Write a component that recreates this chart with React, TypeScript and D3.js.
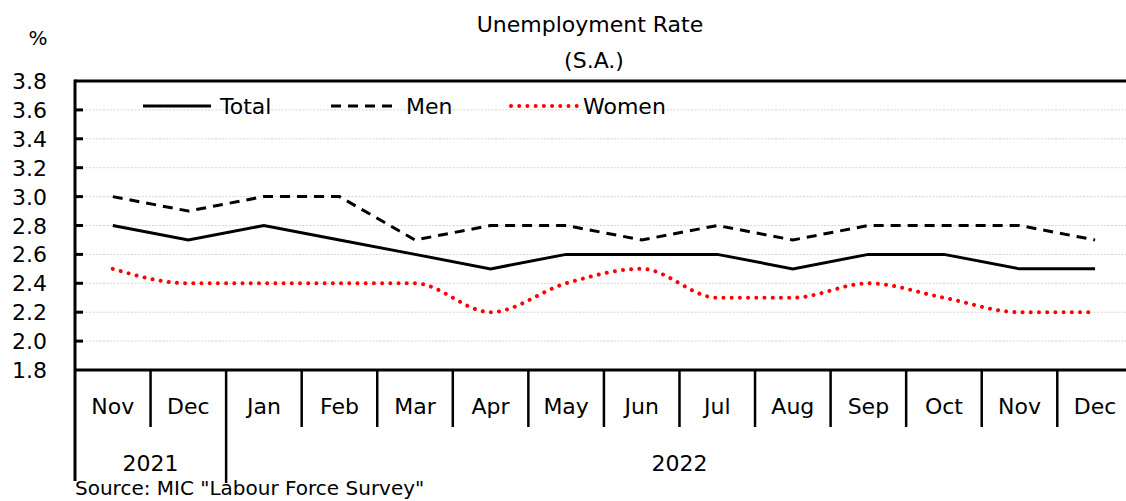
import React from "react";
import * as d3 from "d3";

const months = ["Nov", "Dec", "Jan", "Feb", "Mar", "Apr", "May", "Jun", "Jul", "Aug", "Sep", "Oct", "Nov", "Dec"];
const years = [
  { label: "2021", start: 0, end: 2 },
  { label: "2022", start: 2, end: 14 },
];
const total = [2.8, 2.7, 2.8, 2.7, 2.6, 2.5, 2.6, 2.6, 2.6, 2.5, 2.6, 2.6, 2.5, 2.5];
const men = [3.0, 2.9, 3.0, 3.0, 2.7, 2.8, 2.8, 2.7, 2.8, 2.7, 2.8, 2.8, 2.8, 2.7];
const women = [2.5, 2.4, 2.4, 2.4, 2.4, 2.2, 2.4, 2.5, 2.3, 2.3, 2.4, 2.3, 2.2, 2.2];
const yTicks = [1.8, 2.0, 2.2, 2.4, 2.6, 2.8, 3.0, 3.2, 3.4, 3.6, 3.8];

const W = 1126;
const H = 501;
const FONT = "'DejaVu Sans', Verdana, sans-serif";
const FS = 22;

export default function App() {
  const left = 75;
  const colW = 75.56;
  const top = 81;
  const bottom = 370;
  const x = d3.scaleBand<number>().domain(d3.range(months.length)).range([left, left + colW * months.length]).padding(0);
  const cx = (i: number) => (x(i) as number) + x.bandwidth() / 2;
  const y = d3.scaleLinear().domain([1.8, 3.8]).range([bottom, top]);
  const edge = (i: number) => left + i * x.bandwidth();

  const straight = d3.line<number>().x((_, i) => cx(i)).y((v) => y(v));
  const smooth = d3
    .line<number>()
    .x((_, i) => cx(i))
    .y((v) => y(v))
    .curve(d3.curveMonotoneX);

  const rightEdge = left + colW * months.length;

  return (
    <svg width={W} height={H} style={{ position: "absolute", left: 0, top: 0, background: "#fff" }} fontFamily={FONT}>
      {/* title */}
      <text x={590} y={32} fontSize={FS} textAnchor="middle" fill="#000">Unemployment Rate</text>
      <text x={594} y={68} fontSize={FS} textAnchor="middle" fill="#000">(S.A.)</text>
      <text x={38} y={45} fontSize={20} textAnchor="middle" fill="#000">%</text>

      {/* gridlines */}
      {yTicks.filter((t) => t > 1.8 && t < 3.8).map((t) => (
        <line key={"g" + t} x1={left} x2={rightEdge} y1={y(t)} y2={y(t)} stroke="#d4d4d4" strokeWidth={1} strokeDasharray="2 1.5" />
      ))}

      {/* y tick labels */}
      {yTicks.map((t) => (
        <text key={"yl" + t} x={47} y={y(t) + 8} fontSize={FS} textAnchor="end" fill="#000">{t.toFixed(1)}</text>
      ))}
      {/* y tick marks */}
      {yTicks.filter((t) => t > 1.8 && t < 3.8).map((t) => (
        <line key={"yt" + t} x1={left} x2={left + 8} y1={y(t)} y2={y(t)} stroke="#000" strokeWidth={3} />
      ))}

      {/* top border */}
      <line x1={left} x2={rightEdge} y1={top} y2={top} stroke="#000" strokeWidth={3} />
      {/* left axis extending down through year area */}
      <line x1={left} x2={left} y1={top - 1.5} y2={481} stroke="#000" strokeWidth={3} />
      {/* bottom axis */}
      <line x1={left} x2={rightEdge} y1={bottom} y2={bottom} stroke="#000" strokeWidth={3} />

      {/* month separators */}
      {d3.range(1, months.length).map((i) => {
        const isYear = years.some((yr) => yr.start === i);
        return (
          <line key={"s" + i} x1={edge(i)} x2={edge(i)} y1={bottom} y2={isYear ? 483 : 427} stroke="#000" strokeWidth={2.5} />
        );
      })}

      {/* month labels */}
      {months.map((m, i) => (
        <text key={"m" + i} x={cx(i)} y={414} fontSize={FS} textAnchor="middle" fill="#000">{m}</text>
      ))}
      {/* year labels */}
      {years.map((yr) => (
        <text key={yr.label} x={(edge(yr.start) + edge(yr.end)) / 2} y={471} fontSize={FS} textAnchor="middle" fill="#000">{yr.label}</text>
      ))}

      {/* series */}
      <path d={straight(total) || ""} fill="none" stroke="#000" strokeWidth={3} />
      <path d={straight(men) || ""} fill="none" stroke="#000" strokeWidth={3} strokeDasharray="10 7" />
      <path d={smooth(women) || ""} fill="none" stroke="#ff0000" strokeWidth={4} strokeDasharray="0.01 8.2" strokeLinecap="round" />

      {/* legend */}
      <line x1={143} x2={211} y1={106} y2={106} stroke="#000" strokeWidth={3} />
      <text x={220} y={114} fontSize={FS} fill="#000">Total</text>
      <line x1={331} x2={398} y1={106} y2={106} stroke="#000" strokeWidth={3} strokeDasharray="10 7" />
      <text x={406} y={114} fontSize={FS} fill="#000">Men</text>
      <line x1={511} x2={577} y1={106} y2={106} stroke="#ff0000" strokeWidth={4} strokeDasharray="0.01 8.2" strokeLinecap="round" />
      <text x={583} y={114} fontSize={FS} fill="#000">Women</text>

      {/* source */}
      <text x={75} y={495} fontSize={20} fill="#000">Source: MIC "Labour Force Survey"</text>
    </svg>
  );
}
